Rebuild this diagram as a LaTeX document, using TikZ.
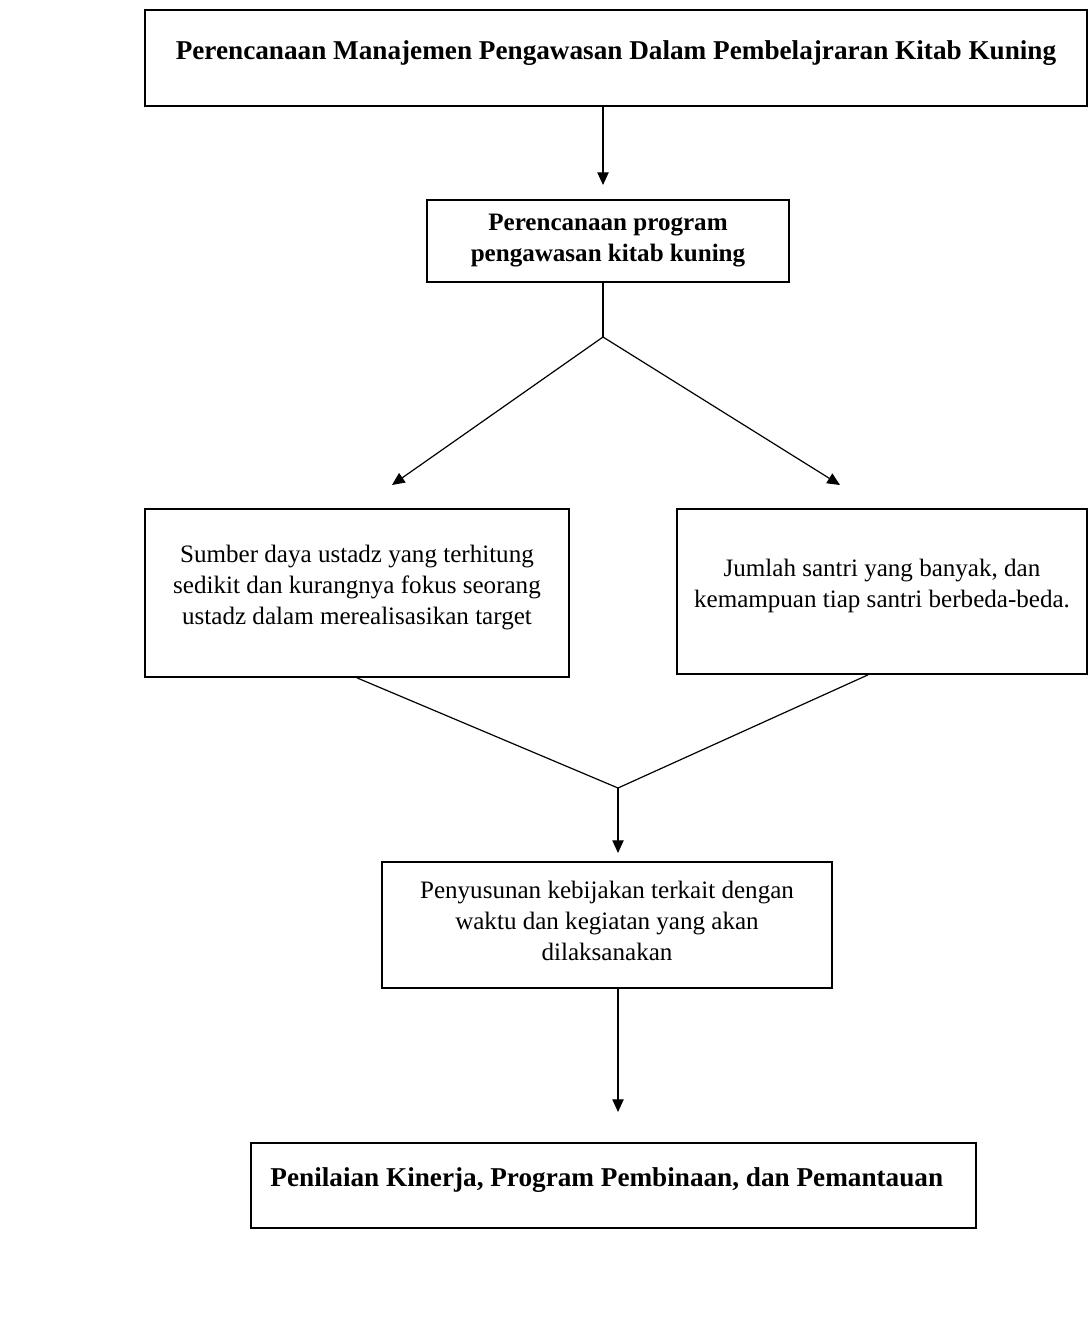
\documentclass[tikz,border=0pt]{standalone}
\usepackage{fontspec}
\setmainfont{Liberation Serif}
\usetikzlibrary{arrows.meta}

\begin{document}
\begin{tikzpicture}[x=0.75pt,y=-0.75pt,
  box/.style={draw,line width=1.3pt,align=center,inner sep=0pt,font=\fontsize{18.8pt}{23.25pt}\selectfont},
  bbox/.style={box,font=\fontsize{18.8pt}{23.25pt}\selectfont\bfseries},
  tbox/.style={box,font=\fontsize{20.4pt}{24pt}\selectfont\bfseries,text depth=12pt},
  link/.style={line width=0.9pt},
  arr/.style={link,-{Triangle[length=9.5pt,width=8.5pt]}}]
\useasboundingbox (0,0) rectangle (1089,1338);

\node[tbox,minimum width=706.5pt,minimum height=72pt] (plan) at (616,58) {Perencanaan Manajemen Pengawasan Dalam Pembelajraran Kitab Kuning};
\node[bbox,minimum width=271.5pt,minimum height=61.5pt] (prog) at (608,241) {Perencanaan program\\pengawasan kitab kuning};
\node[box,minimum width=318pt,minimum height=126pt,text depth=13pt] (ustadz) at (357,593) {Sumber daya ustadz yang terhitung\\sedikit dan kurangnya fokus seorang\\ustadz dalam merealisasikan target};
\node[box,minimum width=307.5pt,minimum height=123.75pt,text depth=12pt] (santri) at (882,591.5) {Jumlah santri yang banyak, dan\\kemampuan tiap santri berbeda-beda.};
\node[box,minimum width=337.5pt,minimum height=94.5pt,text depth=6pt] (bijak) at (607,925) {Penyusunan kebijakan terkait dengan\\waktu dan kegiatan yang akan\\dilaksanakan};
\node[tbox,minimum width=543.75pt,minimum height=63.75pt] (nilai) at (613.5,1185.5) {Penilaian Kinerja, Program Pembinaan, dan Pemantauan\hspace{10pt}};

\coordinate (a1) at (603,185);
\coordinate (split) at (603,337);
\coordinate (tipL) at (392,485);
\coordinate (tipR) at (840,485);
\coordinate (merge) at (618,788);
\coordinate (a2) at (618,853);
\coordinate (a3) at (618,1112);

\draw[arr] (plan.south -| a1) -- (a1);
\draw[link] (prog.south -| split) -- (split);
\draw[arr] (split) -- (tipL);
\draw[arr] (split) -- (tipR);
\draw[link] (ustadz.south) -- (merge);
\draw[link] (santri.south -| 868,0) -- (merge);
\draw[arr] (merge) -- (a2);
\draw[arr] (bijak.south -| a3) -- (a3);
\end{tikzpicture}
\end{document}
